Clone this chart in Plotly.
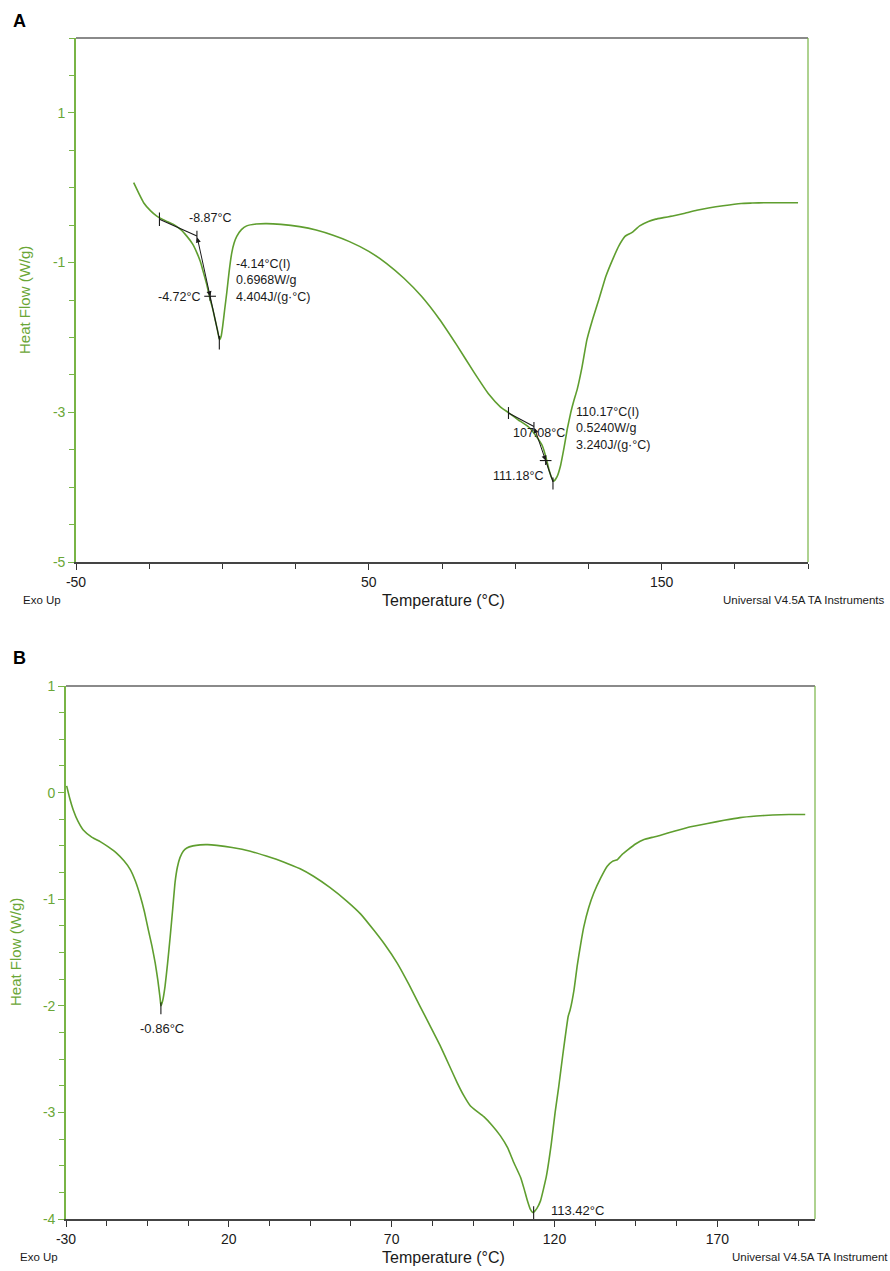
import plotly.graph_objects as go

W, H = 890, 1271
FONT = "Liberation Sans, Arial, sans-serif"
CURVE = "#5f9e2f"
AXGREEN = "#78b446"
LABGREEN = "#6aa636"

# ---------------- Panel A data (Temperature °C, Heat Flow W/g) ----------------
A_T = [-30.3, -28.5, -26.9, -24.5, -22.4, -19.5, -16.7, -14.2, -12.1, -10.2, -8.7, -7.5,
       -6.5, -5.3, -4.2, -3.3, -2.5, -1.7, -1.0, -0.4, 0.1, 0.8, 1.5, 2.3, 3.2, 4.0, 4.9,
       6.5, 8.3, 11.5, 15.1, 20, 26.4, 32, 37.8, 43.4, 50, 56, 62, 68, 74, 80, 86, 91, 95,
       97.9, 101, 104.7, 107, 109.3, 110.5, 111.5, 112.4, 113.2, 114.3, 115.5, 116.7,
       117.8, 119, 120.0, 121.2, 122.8, 124.5, 126.5, 128.6, 131, 133.6, 135.5, 137.5,
       139.8, 142.5, 145.5, 148, 150.6, 153.4, 158, 162, 166, 171, 177.2, 181, 185.3,
       190, 196.6]
A_HF = [0.067, -0.08, -0.20, -0.31, -0.38, -0.44, -0.49, -0.56, -0.65, -0.75, -0.87, -0.99,
        -1.13, -1.30, -1.49, -1.62, -1.76, -1.90, -2.03, -1.98, -1.85, -1.62, -1.40, -1.12,
        -0.87, -0.74, -0.65, -0.56, -0.51, -0.485, -0.48, -0.49, -0.52, -0.565, -0.635, -0.72,
        -0.85, -1.01, -1.21, -1.45, -1.75, -2.10, -2.47, -2.76, -2.93, -3.01, -3.10, -3.20,
        -3.31, -3.45, -3.60, -3.76, -3.87, -3.92, -3.86, -3.71, -3.47, -3.22, -3.00, -2.85,
        -2.69, -2.40, -2.03, -1.75, -1.49, -1.18, -0.93, -0.77, -0.65, -0.60, -0.51, -0.45,
        -0.42, -0.40, -0.38, -0.34, -0.30, -0.27, -0.24, -0.21, -0.205, -0.20, -0.20, -0.20]

# ---------------- Panel B data ----------------
B_T = [-29.8, -28.8, -27.8, -26.3, -24.7, -22, -19.5, -17, -14.4, -12.2, -10.3, -8.7, -7.2,
       -5.9, -4.7, -3.6, -2.6, -1.8, -1.1, -0.86, -0.3, 0.4, 1.2, 2.0, 2.8, 3.5, 4.2, 5.0,
       6.0, 7.1, 9, 11.2, 13.5, 16.3, 21, 26.6, 31.5, 36.8, 41.9, 46.0, 51, 56.3, 60.5, 64.5,
       68, 71.7, 75.3, 78.8, 82, 85.0, 87.7, 90.1, 92.3, 94.2, 96.2, 98.3, 100.8, 103.4,
       105.6, 107.5, 109.6, 110.7, 111.6, 112.6, 113.42, 114.6, 115.7, 117.5, 119, 120.2,
       121.3, 122.6, 124.2, 124.8, 126, 127.0, 128.0, 129.0, 130.5, 132.1, 134.2, 136.2,
       137.8, 139.3, 140.8, 142.4, 145, 147.5, 150, 152.6, 157, 161.8, 167, 172.1, 177, 182,
       187, 192, 197]
B_HF = [0.063, -0.06, -0.16, -0.27, -0.35, -0.42, -0.46, -0.51, -0.57, -0.64, -0.72, -0.83,
        -0.97, -1.12, -1.29, -1.44, -1.60, -1.76, -1.93, -2.00, -1.95, -1.82, -1.60, -1.35,
        -1.08, -0.84, -0.70, -0.61, -0.55, -0.52, -0.50, -0.49, -0.488, -0.495, -0.515, -0.55,
        -0.595, -0.65, -0.715, -0.785, -0.89, -1.02, -1.14, -1.29, -1.43, -1.60, -1.80, -2.01,
        -2.20, -2.38, -2.56, -2.72, -2.85, -2.94, -2.99, -3.04, -3.12, -3.22, -3.33, -3.47,
        -3.61, -3.72, -3.82, -3.91, -3.94, -3.90, -3.83, -3.60, -3.30, -3.00, -2.76, -2.45,
        -2.10, -2.04, -1.85, -1.62, -1.43, -1.26, -1.08, -0.94, -0.80, -0.69, -0.645, -0.63,
        -0.58, -0.54, -0.48, -0.44, -0.42, -0.40, -0.36, -0.32, -0.29, -0.26, -0.235, -0.22,
        -0.21, -0.205, -0.205]

# ---------------- tick labels ----------------
A_XTICKS = [-50, 50, 150]
A_XTEXT = ["-50", "50", "150"]
A_YTICKS = [1, -1, -3, -5]
A_YTEXT = ["1", "-1", "-3", "-5"]
B_XTICKS = [-30, 20, 70, 120, 170]
B_XTEXT = ["-30", "20", "70", "120", "170"]
B_YTICKS = [1, 0, -1, -2, -3, -4]
B_YTEXT = ["1", "0", "-1", "-2", "-3", "-4"]

# ---------------- Analysis annotation points ----------------
A1_TAN_T = [-21.5, -8.7]
A1_TAN_H = [-0.42, -0.645]
A1_CROSS = (-4.2, -1.45)
A1_MIN = (-1.05, -2.02)
A2_TAN_T = [97.7, 106.4]
A2_TAN_H = [-3.01, -3.19]
A2_CROSS = (110.4, -3.645)
A2_MIN = (112.9, -3.93)
B_PEAK1 = (-0.86, -2.0)
B_PEAK2 = (113.6, -3.94)

A_LABELS = [
    ("-8.87°C", -12.0, -0.41, "left"),
    ("-4.14°C(I)<br>0.6968W/g<br>4.404J/(g·°C)", 4.1, -1.245, "left"),
    ("-4.72°C", -6.5, -1.46, "right"),
    ("107.08°C", 98.6, -3.27, "left"),
    ("110.17°C(I)<br>0.5240W/g<br>3.240J/(g·°C)", 120.0, -3.21, "left"),
    ("111.18°C", 110.3, -3.855, "right"),
]
B_LABELS = [
    ("-0.86°C", -0.6, -2.21, "center"),
    ("113.42°C", 118.3, -3.918, "left"),
]

# ---------------- layout geometry (pixels) ----------------
A_L, A_R, A_TOP, A_BOT = 76, 808, 38, 562
B_L, B_R, B_TOP, B_BOT = 66, 815, 686, 1219


def px(x):
    return x / W


def py(y):
    return 1 - y / H


fig = go.Figure()
fig.add_trace(go.Scatter(x=A_T, y=A_HF, mode="lines", xaxis="x", yaxis="y",
                         line=dict(color=CURVE, width=1.6, shape="spline", smoothing=0.4),
                         showlegend=False, hoverinfo="skip"))
fig.add_trace(go.Scatter(x=B_T, y=B_HF, mode="lines", xaxis="x2", yaxis="y2",
                         line=dict(color=CURVE, width=1.6, shape="spline", smoothing=0.4),
                         showlegend=False, hoverinfo="skip"))

BLK = dict(color="#1a1a1a", width=1.1)


def seg(xs, ys, xa, ya):
    fig.add_trace(go.Scatter(x=xs, y=ys, mode="lines", xaxis=xa, yaxis=ya, line=BLK,
                             showlegend=False, hoverinfo="skip"))


def vtick(t, h, dh, xa="x", ya="y"):
    seg([t, t], [h - dh, h + dh], xa, ya)


def cross(t, h, dt, dh, xa="x", ya="y"):
    seg([t - dt, t + dt], [h, h], xa, ya)
    seg([t, t], [h - dh, h + dh], xa, ya)


def darrow(p0, p1, xa="x", ya="y"):
    fig.add_annotation(x=p1[0], y=p1[1], ax=p0[0], ay=p0[1], xref=xa, yref=ya,
                       axref=xa, ayref=ya, showarrow=True, arrowhead=2, startarrowhead=2,
                       arrowside="end+start", arrowsize=1.0, arrowwidth=1, arrowcolor="#1a1a1a",
                       text="")


seg(A1_TAN_T, A1_TAN_H, "x", "y")
vtick(A1_TAN_T[0], A1_TAN_H[0], 0.09)
vtick(A1_TAN_T[1], A1_TAN_H[1], 0.07)
darrow((A1_TAN_T[1], A1_TAN_H[1]), A1_CROSS)
seg([A1_CROSS[0], A1_MIN[0]], [A1_CROSS[1], A1_MIN[1]], "x", "y")
cross(A1_CROSS[0], A1_CROSS[1], 2.0, 0.06)
seg([A1_MIN[0], A1_MIN[0]], [A1_MIN[1] + 0.04, A1_MIN[1] - 0.14], "x", "y")

seg(A2_TAN_T, A2_TAN_H, "x", "y")
vtick(A2_TAN_T[0], A2_TAN_H[0], 0.08)
vtick(A2_TAN_T[1], A2_TAN_H[1], 0.06)
darrow((A2_TAN_T[1], A2_TAN_H[1]), A2_CROSS)
seg([A2_CROSS[0], A2_MIN[0]], [A2_CROSS[1], A2_MIN[1]], "x", "y")
cross(A2_CROSS[0], A2_CROSS[1], 2.0, 0.06)
seg([A2_MIN[0], A2_MIN[0]], [A2_MIN[1] + 0.06, A2_MIN[1] - 0.1], "x", "y")

seg([B_PEAK1[0], B_PEAK1[0]], [B_PEAK1[1] + 0.03, B_PEAK1[1] - 0.08], "x2", "y2")
seg([B_PEAK2[0], B_PEAK2[0]], [B_PEAK2[1] + 0.06, -4.0], "x2", "y2")

for txt, t, h, anc in A_LABELS:
    fig.add_annotation(x=t, y=h, xref="x", yref="y", text=txt, showarrow=False,
                       xanchor=anc, yanchor="middle", align="left",
                       font=dict(family=FONT, size=12.5, color="#1a1a1a"))
for txt, t, h, anc in B_LABELS:
    fig.add_annotation(x=t, y=h, xref="x2", yref="y2", text=txt, showarrow=False,
                       xanchor=anc, yanchor="middle", align="left",
                       font=dict(family=FONT, size=13, color="#1a1a1a"))

for L, R, T, Bt in [(A_L, A_R, A_TOP, A_BOT), (B_L, B_R, B_TOP, B_BOT)]:
    fig.add_shape(type="line", xref="paper", yref="paper", x0=px(L), x1=px(R), y0=py(T), y1=py(T),
                  line=dict(color="#8a8a8a", width=2))
    fig.add_shape(type="line", xref="paper", yref="paper", x0=px(R), x1=px(R), y0=py(T), y1=py(Bt),
                  line=dict(color=AXGREEN, width=1.2))

xcommon = dict(showgrid=False, zeroline=False, showline=True, linecolor="#444444", linewidth=1.6,
               ticks="outside", ticklen=6, tickwidth=1, tickcolor="#333333",
               tickfont=dict(family=FONT, size=14, color="#1a1a1a"), fixedrange=True)
ycommon = dict(showgrid=False, zeroline=False, showline=True, linecolor=AXGREEN, linewidth=1.6,
               ticks="outside", ticklen=6, tickwidth=1, tickcolor=AXGREEN,
               tickfont=dict(family=FONT, size=14, color=LABGREEN), fixedrange=True)

fig.update_layout(
    width=W, height=H, margin=dict(l=0, r=0, t=0, b=0, autoexpand=False),
    paper_bgcolor="white", plot_bgcolor="white",
    font=dict(family=FONT),
    xaxis=dict(xcommon, domain=[px(A_L), px(A_R)], range=[-50, 200], anchor="y",
               tickvals=A_XTICKS, ticktext=A_XTEXT,
               minor=dict(dtick=25, tick0=-50, ticks="outside", ticklen=5, tickcolor="#333333")),
    yaxis=dict(ycommon, domain=[py(A_BOT), py(A_TOP)], range=[-5, 2], anchor="x",
               tickvals=A_YTICKS, ticktext=A_YTEXT,
               minor=dict(dtick=0.5, tick0=0, ticks="outside", ticklen=5, tickcolor=AXGREEN)),
    xaxis2=dict(xcommon, domain=[px(B_L), px(B_R)], range=[-30, 200], anchor="y2",
                tickvals=B_XTICKS, ticktext=B_XTEXT,
                minor=dict(dtick=12.5, tick0=-30, ticks="outside", ticklen=5, tickcolor="#333333")),
    yaxis2=dict(ycommon, domain=[py(B_BOT), py(B_TOP)], range=[-4, 1], anchor="x2",
                tickvals=B_YTICKS, ticktext=B_YTEXT,
                minor=dict(dtick=0.25, tick0=0, ticks="outside", ticklen=5, tickcolor=AXGREEN)),
)

texts = [
    ("<b>A</b>", 19.5, 21, 18, "#000000", "center", 0),
    ("<b>B</b>", 19.5, 658, 18, "#000000", "center", 0),
    ("Heat Flow (W/g)", 24, 300, 15, LABGREEN, "center", -90),
    ("Heat Flow (W/g)", 15, 952, 15, LABGREEN, "center", -90),
    ("Temperature (°C)", 443, 600, 16, "#1a1a1a", "center", 0),
    ("Temperature (°C)", 443, 1257, 16, "#1a1a1a", "center", 0),
    ("Exo Up", 21, 600, 11.5, "#1a1a1a", "left", 0),
    ("Exo Up", 18, 1257, 11.5, "#1a1a1a", "left", 0),
    ("Universal V4.5A TA Instruments", 887, 600, 11.5, "#1a1a1a", "right", 0),
    ("Universal V4.5A TA Instrument", 730, 1257, 11.5, "#1a1a1a", "left", 0),
]
for txt, x, y, size, col, anc, ang in texts:
    fig.add_annotation(x=px(x), y=py(y), xref="paper", yref="paper", text=txt, showarrow=False,
                       xanchor=anc, yanchor="middle", textangle=ang,
                       font=dict(family=FONT, size=size, color=col))

fig.write_html("out.html")
